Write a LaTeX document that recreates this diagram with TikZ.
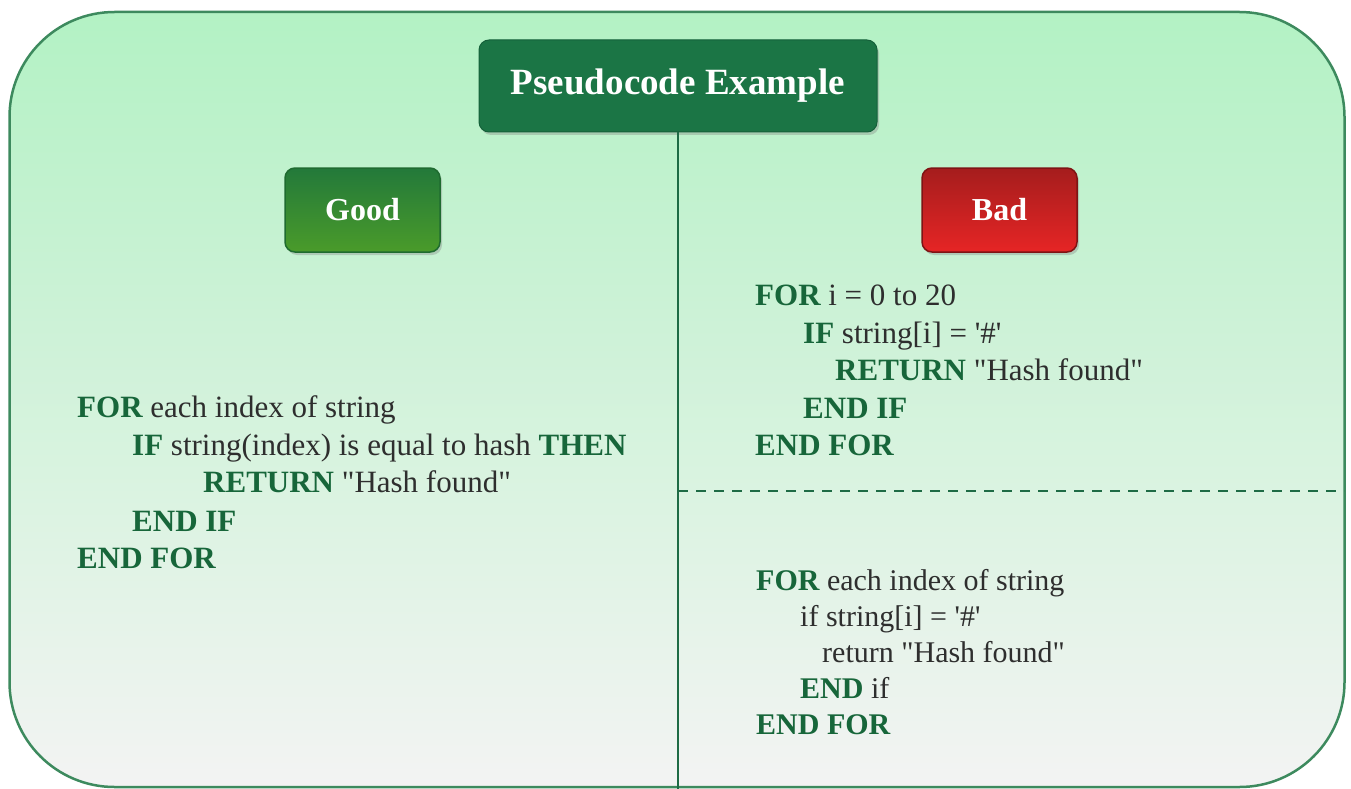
\documentclass[tikz,border=0pt]{standalone}
\usepackage{fontspec}
\setmainfont{Liberation Serif}
\newfontfamily\pcfont{Liberation Serif}
\usetikzlibrary{shadows}
\definecolor{bgtop}{HTML}{B3F2C4}
\definecolor{bgbot}{HTML}{F3F3F3}
\definecolor{frame}{HTML}{3D8A5E}
\definecolor{divline}{HTML}{1E6B45}
\definecolor{kwgreen}{HTML}{17663A}
\definecolor{txtgray}{HTML}{2E2E2E}
\definecolor{titlefill}{HTML}{1B7545}
\definecolor{titledraw}{HTML}{15603A}
\definecolor{goodtop}{HTML}{23793A}
\definecolor{goodbot}{HTML}{4A9B2A}
\definecolor{gooddraw}{HTML}{1F6B30}
\definecolor{badtop}{HTML}{A51D1D}
\definecolor{badbot}{HTML}{E62525}
\definecolor{baddraw}{HTML}{7F1414}
\newcommand{\kwd}[1]{\textbf{\color{kwgreen}#1}}
\begin{document}
\begin{tikzpicture}[x=1pt,y=-1pt,
  boxshadow/.style={drop shadow={opacity=0.35,shadow xshift=2pt,shadow yshift=-3pt}},
  titlebox/.style={rounded corners=10pt,fill=titlefill,draw=titledraw,line width=1pt,
    minimum width=398pt,minimum height=92pt,inner sep=0pt,text=white,
    font=\pcfont\bfseries\fontsize{37}{40}\selectfont,boxshadow},
  labelbox/.style={rounded corners=10pt,line width=1.5pt,
    minimum width=155pt,minimum height=84pt,inner sep=0pt,text=white,
    font=\pcfont\bfseries\fontsize{32}{36}\selectfont,boxshadow},
  goodbox/.style={labelbox,draw=gooddraw,top color=goodtop,bottom color=goodbot},
  badbox/.style={labelbox,draw=baddraw,top color=badtop,bottom color=badbot},
  divider/.style={draw=divline,line width=2pt},
  dashdiv/.style={draw=divline,line width=2pt,dash pattern=on 10pt off 8pt},
  codeline/.style={anchor=base west,inner sep=0pt,text=txtgray,
    font=\pcfont\fontsize{31}{37}\selectfont},
  codelinesm/.style={codeline,font=\pcfont\fontsize{30}{36}\selectfont}
]
\useasboundingbox (0,0) rectangle (1351,789);
% outer panel
\path[draw=frame,line width=2.5pt,rounded corners=105pt,top color=bgtop,bottom color=bgbot]
  (9.5,12) rectangle (1344.5,787);
% dividers
\coordinate (vbot) at (678,789);
\coordinate (dl) at (678,491);
\coordinate (dr) at (1344,491);
\node[titlebox] (title) at (678,86) {Pseudocode Example};
\draw[divider] (title.south) -- (vbot);
\draw[dashdiv] (dl) -- (dr);
% labels
\node[goodbox] (good) at (362.5,210) {Good};
\node[badbox] (bad) at (999.5,210) {Bad};
% good code
\node[codeline] (g1) at (77,417) {\kwd{FOR} each index of string};
\node[codeline] (g2) at (132,455) {\kwd{IF} string(index) is equal to hash \kwd{THEN}};
\node[codeline] (g3) at (203,492) {\kwd{RETURN} "Hash found"};
\node[codeline] (g4) at (132,531) {\kwd{END IF}};
\node[codeline] (g5) at (77,568) {\kwd{END FOR}};
% bad code 1
\node[codeline] (b1) at (755,305) {\kwd{FOR} i = 0 to 20};
\node[codeline] (b2) at (803,343) {\kwd{IF} string[i] = '\#'};
\node[codeline] (b3) at (835,380) {\kwd{RETURN} "Hash found"};
\node[codeline] (b4) at (803,418) {\kwd{END IF}};
\node[codeline] (b5) at (755,455) {\kwd{END FOR}};
% bad code 2
\node[codelinesm] (c1) at (756,590) {\kwd{FOR} each index of string};
\node[codelinesm] (c2) at (800,626) {if string[i] = '\#'};
\node[codelinesm] (c3) at (822,662) {return "Hash found"};
\node[codelinesm] (c4) at (800,698) {\kwd{END} if};
\node[codelinesm] (c5) at (756,734) {\kwd{END FOR}};
\end{tikzpicture}
\end{document}
